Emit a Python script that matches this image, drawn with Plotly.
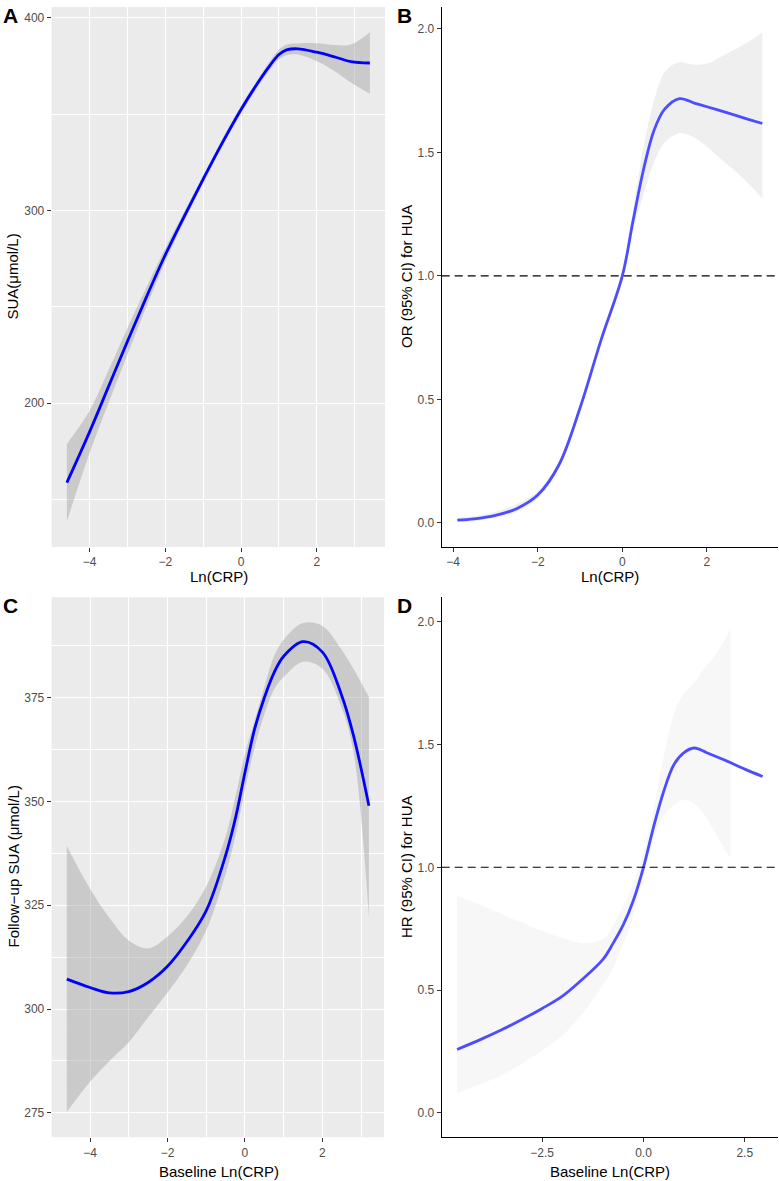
import plotly.graph_objects as go

W, H = 779, 1181

# ---------------- Panel A: SUA vs Ln(CRP) ----------------
a_x = [-4.6, -4.0, -3.5, -3.0, -2.5, -2.0, -1.5, -1.0, -0.5, 0.0, 0.5, 0.75, 1.0, 1.2, 1.5, 2.0, 2.5, 2.9, 3.4]
a_y = [158.6, 185.0, 208.5, 232.0, 255.0, 277.0, 297.0, 316.3, 335.0, 352.5, 368.0, 375.0, 381.0, 383.4, 384.0, 382.2, 379.6, 377.3, 376.6]
a_lo = [138.4, 174.0, 200.0, 225.0, 250.0, 273.5, 294.5, 314.3, 333.0, 350.5, 366.0, 372.8, 378.5, 380.7, 381.0, 377.5, 372.0, 366.5, 360.6]
a_hi = [178.7, 196.0, 217.0, 239.0, 260.0, 280.5, 299.5, 318.3, 337.0, 354.5, 370.0, 377.3, 383.5, 386.2, 386.8, 386.9, 386.0, 386.2, 392.6]

# ---------------- Panel B: OR for HUA ----------------
b_x = [-3.9, -3.5, -3.0, -2.5, -2.0, -1.5, -1.0, -0.5, 0.0, 0.25, 0.5, 0.75, 1.0, 1.35, 1.7, 2.0, 2.35, 2.7, 3.0, 3.31]
b_y = [0.011, 0.016, 0.030, 0.057, 0.112, 0.234, 0.465, 0.742, 1.0, 1.22, 1.43, 1.59, 1.675, 1.718, 1.700, 1.685, 1.667, 1.649, 1.633, 1.617]
b_lo = [0.003, 0.007, 0.020, 0.045, 0.098, 0.222, 0.452, 0.730, 0.985, 1.18, 1.33, 1.46, 1.54, 1.578, 1.56, 1.523, 1.47, 1.42, 1.37, 1.314]
b_hi = [0.020, 0.027, 0.045, 0.075, 0.128, 0.247, 0.478, 0.754, 1.015, 1.26, 1.52, 1.71, 1.825, 1.866, 1.855, 1.86, 1.89, 1.92, 1.95, 1.986]

# ---------------- Panel C: Follow-up SUA ----------------
c_x = [-4.6, -4.0, -3.5, -3.0, -2.5, -2.0, -1.5, -1.0, -0.5, -0.25, 0.0, 0.25, 0.5, 0.75, 1.0, 1.5, 2.0, 2.5, 2.8, 3.2]
c_y = [307.2, 305.2, 303.9, 304.2, 306.4, 310.3, 316.2, 323.7, 337.0, 345.8, 357.0, 367.5, 375.0, 381.0, 385.0, 388.5, 386.0, 375.5, 366.0, 349.0]
c_lo = [275.2, 282.5, 287.5, 292.0, 298.0, 304.0, 310.5, 319.0, 332.5, 341.5, 353.0, 363.0, 371.0, 377.0, 380.0, 383.7, 382.0, 372.5, 362.0, 322.2]
c_hi = [339.3, 329.0, 322.0, 316.5, 314.6, 317.5, 322.3, 329.5, 341.5, 351.0, 361.5, 369.5, 377.5, 385.0, 389.0, 393.0, 392.3, 386.5, 382.0, 375.2]

# ---------------- Panel D: HR for HUA ----------------
d_x = [-4.6, -4.0, -3.5, -3.0, -2.5, -2.0, -1.5, -1.0, -0.75, -0.5, -0.25, 0.0, 0.25, 0.5, 0.75, 1.0, 1.25, 1.55, 2.0, 2.5, 2.94]
d_y = [0.258, 0.300, 0.338, 0.380, 0.425, 0.475, 0.545, 0.625, 0.690, 0.765, 0.865, 1.0, 1.165, 1.31, 1.418, 1.467, 1.486, 1.468, 1.437, 1.40, 1.37]
d_ci_x = [-4.6, -4.0, -3.5, -3.0, -2.5, -2.0, -1.5, -1.0, -0.75, -0.5, -0.25, 0.0, 0.25, 0.5, 0.75, 1.0, 1.25, 1.5, 1.75, 2.0, 2.15]
d_lo = [0.079, 0.118, 0.153, 0.200, 0.254, 0.315, 0.405, 0.520, 0.590, 0.690, 0.800, 0.962, 1.118, 1.21, 1.255, 1.274, 1.26, 1.215, 1.145, 1.075, 1.037]
d_hi = [0.884, 0.845, 0.810, 0.775, 0.742, 0.712, 0.692, 0.708, 0.760, 0.843, 0.935, 1.06, 1.24, 1.45, 1.625, 1.708, 1.75, 1.81, 1.86, 1.925, 1.975]

FONT = "Arial, Liberation Sans, Helvetica, sans-serif"
TICKFONT = dict(family=FONT, size=12, color="#4D4D4D")

def clamp(v):
    return min(1.0, max(0.0, v))

def px_x(x0, x1):
    return [clamp(x0 / W), clamp(x1 / W)]

def px_y(top, bottom):
    return [clamp(1 - bottom / H), clamp(1 - top / H)]

fig = go.Figure()

def ribbon(x, lo, hi, color, xa, ya):
    fig.add_trace(go.Scatter(x=x, y=lo, mode="lines", line=dict(width=0, shape="spline", color=color),
                             xaxis=xa, yaxis=ya, showlegend=False, hoverinfo="skip"))
    fig.add_trace(go.Scatter(x=x, y=hi, mode="lines", line=dict(width=0, shape="spline", color=color),
                             fill="tonexty", fillcolor=color, xaxis=xa, yaxis=ya, showlegend=False, hoverinfo="skip"))

def curve(x, y, color, xa, ya):
    fig.add_trace(go.Scatter(x=x, y=y, mode="lines", line=dict(width=2.8, shape="spline", color=color),
                             xaxis=xa, yaxis=ya, showlegend=False))

ribbon(a_x, a_lo, a_hi, "rgba(153,153,153,0.4)", "x", "y")
curve(a_x, a_y, "#0000FF", "x", "y")
ribbon(b_x, b_lo, b_hi, "#EFEFEF", "x2", "y2")
curve(b_x, b_y, "#4D4DFF", "x2", "y2")
ribbon(c_x, c_lo, c_hi, "rgba(153,153,153,0.4)", "x3", "y3")
curve(c_x, c_y, "#0000FF", "x3", "y3")
ribbon(d_ci_x, d_lo, d_hi, "#F7F7F7", "x4", "y4")
curve(d_x, d_y, "#4D4DFF", "x4", "y4")

def grey_axis(domain, rng, dtick, minor_dtick, anchor, tickformat=None):
    d = dict(domain=domain, range=rng, dtick=dtick, tick0=0, anchor=anchor,
             showgrid=True, gridcolor="white", gridwidth=1.1, zeroline=False,
             showline=False, ticks="outside", ticklen=4, tickwidth=1.1, tickcolor="#333333",
             tickfont=TICKFONT,
             minor=dict(dtick=minor_dtick, tick0=0, showgrid=True, gridcolor="white", gridwidth=0.55, ticks=""))
    if tickformat:
        d["tickformat"] = tickformat
    return d

def classic_axis(domain, rng, dtick, anchor, tickformat=None):
    d = dict(domain=domain, range=rng, dtick=dtick, tick0=0, anchor=anchor,
             showgrid=False, zeroline=False, showline=True, linecolor="black", linewidth=1.1,
             ticks="outside", ticklen=4, tickwidth=1.1, tickcolor="#333333", tickfont=TICKFONT)
    if tickformat:
        d["tickformat"] = tickformat
    return d

dA_x, dA_y = px_x(51.7, 385), px_y(7, 547)
dB_x, dB_y = px_x(441.7, 778), px_y(7, 546.7)
dC_x, dC_y = px_x(51.7, 384), px_y(597.3, 1137.3)
dD_x, dD_y = px_x(441.7, 778), px_y(597.3, 1137.3)

fig.update_layout(
    width=W, height=H, margin=dict(l=0, r=0, t=0, b=0),
    paper_bgcolor="white", plot_bgcolor="white", showlegend=False,
    font=dict(family=FONT),
    xaxis=grey_axis(dA_x, [-5.0, 3.8], 2, 1, "y"),
    yaxis=grey_axis(dA_y, [125.2, 405.7], 100, 50, "x"),
    xaxis2=classic_axis(dB_x, [-4.27, 3.68], 2, "y2"),
    yaxis2=classic_axis(dB_y, [-0.097, 2.089], 0.5, "x2", ".1f"),
    xaxis3=grey_axis(dC_x, [-4.99, 3.59], 2, 1, "y3"),
    yaxis3=grey_axis(dC_y, [269.1, 399.2], 25, 12.5, "x3"),
    xaxis4=classic_axis(dD_x, [-4.98, 3.32], 2.5, "y4", ".1f"),
    yaxis4=classic_axis(dD_y, [-0.1, 2.1], 0.5, "x4", ".1f"),
)

shapes = [
    dict(type="rect", xref="x domain", yref="y domain", x0=0, x1=1, y0=0, y1=1,
         fillcolor="#EBEBEB", line=dict(width=0), layer="below"),
    dict(type="rect", xref="x3 domain", yref="y3 domain", x0=0, x1=1, y0=0, y1=1,
         fillcolor="#EBEBEB", line=dict(width=0), layer="below"),
    dict(type="line", xref="x2 domain", yref="y2", x0=0, x1=1, y0=1, y1=1,
         line=dict(color="black", width=1.1, dash="8px,5px")),
    dict(type="line", xref="x4 domain", yref="y4", x0=0, x1=1, y0=1, y1=1,
         line=dict(color="black", width=1.1, dash="8px,5px")),
]
fig.update_layout(shapes=shapes)

def ann(text, xpx, ypx, size=15, bold=False, angle=0, color="black"):
    t = f"<b>{text}</b>" if bold else text
    return dict(text=t, x=xpx / W, y=1 - ypx / H, xref="paper", yref="paper",
                showarrow=False, textangle=angle, xanchor="center", yanchor="middle",
                font=dict(family=FONT, size=size, color=color))

annotations = [
    ann("A", 10, 15, size=21, bold=True),
    ann("B", 404.5, 15, size=21, bold=True),
    ann("C", 10, 605, size=21, bold=True),
    ann("D", 404.5, 605, size=21, bold=True),
    ann("Ln(CRP)", 218.5, 576),
    ann("Ln(CRP)", 610, 576),
    ann("Baseline Ln(CRP)", 218.5, 1171.5),
    ann("Baseline Ln(CRP)", 610, 1171.5),
    ann("SUA(μmol/L)", 11.5, 277, angle=-90),
    ann("OR (95% CI) for HUA", 406, 277, angle=-90),
    ann("Follow−up SUA (μmol/L)", 12.5, 867, angle=-90),
    ann("HR (95% CI) for HUA", 406, 867, angle=-90),
]
fig.update_layout(annotations=annotations)

# remove the browser's default 8px page margin so the figure fills the window exactly
fig.write_html("out.html", config={"displayModeBar": False},
               post_script="document.body.style.margin='0';document.body.style.overflow='hidden';")
